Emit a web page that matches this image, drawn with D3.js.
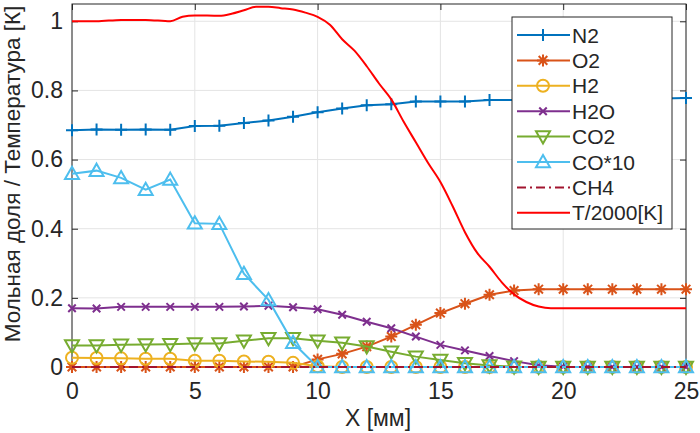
<!DOCTYPE html>
<html>
<head>
<meta charset="utf-8">
<script src="https://cdn.jsdelivr.net/npm/d3@7"></script>
<style>
  body { margin: 0; background: #fff; }
  text { font-family: "Liberation Sans", Arial, sans-serif; fill: #262626; }
</style>
</head>
<body>
<div class="chart"></div>
<script>
// species sampled at every mm
const xs = d3.range(0, 26);
const n2  = [0.685,0.687,0.686,0.687,0.686,0.697,0.698,0.706,0.713,0.724,0.737,0.748,0.757,0.760,0.768,0.768,0.768,0.772,0.772,0.772,0.773,0.774,0.775,0.776,0.777,0.778];
const o2  = [0,0,0,0,0,0,0,0,0,0,0.022,0.038,0.059,0.088,0.122,0.156,0.183,0.209,0.221,0.225,0.225,0.225,0.225,0.225,0.225,0.225];
const h2  = [0.027,0.026,0.025,0.024,0.024,0.018,0.018,0.016,0.015,0.012,0.002,0,0,0,0,0,0,0,0,0,0,0,0,0,0,0];
const h2o = [0.170,0.169,0.174,0.174,0.174,0.174,0.174,0.175,0.177,0.173,0.167,0.151,0.131,0.112,0.088,0.064,0.048,0.032,0.017,0.005,0.001,0,0,0,0,0];
const co2 = [0.062,0.062,0.064,0.065,0.066,0.068,0.068,0.076,0.083,0.083,0.076,0.070,0.059,0.044,0.030,0.020,0.011,0.004,0.001,0,0,0,0,0,0,0];
const co10 = [0.559,0.568,0.547,0.513,0.542,0.416,0.414,0.270,0.194,0.070,0,0,0,0,0,0,0,0,0,0,0,0,0,0,0,0];
const ch4 = xs.map(() => 0);

// temperature / 2000, finer sampling
const tx = [0,1,2,3,4,4.5,5,6,6.5,7,7.5,8,8.5,9,9.5,10,10.5,11,11.5,12,12.5,13,13.5,14,14.5,15,15.5,16,16.5,17,17.5,18,18.5,19,19.5,20,25];
const ty = [1.0,1.0,1.004,1.004,1.0,1.013,1.017,1.016,1.022,1.032,1.042,1.042,1.038,1.034,1.025,1.013,0.99,0.948,0.915,0.87,0.82,0.774,0.71,0.65,0.59,0.535,0.465,0.39,0.33,0.29,0.245,0.21,0.188,0.175,0.17,0.17,0.17];

const xTicks = [0, 5, 10, 15, 20, 25];
const yTicks = [0, 0.2, 0.4, 0.6, 0.8, 1];

const series = [
  { name: 'N2',     y: n2,   color: '#0072BD', marker: 'plus' },
  { name: 'O2',     y: o2,   color: '#D95319', marker: 'star' },
  { name: 'H2',     y: h2,   color: '#EDB120', marker: 'circle' },
  { name: 'H2O',    y: h2o,  color: '#7E2F8E', marker: 'cross' },
  { name: 'CO2',    y: co2,  color: '#77AC30', marker: 'down' },
  { name: 'CO*10',  y: co10, color: '#4DBEEE', marker: 'up' },
  { name: 'CH4',    y: ch4,  color: '#A2142F', marker: null, dash: '9,4,2,4' },
];

const width = 700, height = 433;
const margin = { top: 4, right: 14, bottom: 66, left: 72 };

const x = d3.scaleLinear().domain([0, 25]).range([margin.left, width - margin.right]);
const y = d3.scaleLinear().domain([0, 1.05]).range([height - margin.bottom, margin.top]);

const svg = d3.select('.chart').append('svg')
  .attr('width', width)
  .attr('height', height);

// grid
svg.append('g').selectAll('line').data(xTicks).enter().append('line')
  .attr('x1', d => x(d)).attr('x2', d => x(d))
  .attr('y1', y(0)).attr('y2', y(1.05))
  .style('stroke', '#e4e4e4').style('stroke-width', 1);
svg.append('g').selectAll('line').data(yTicks).enter().append('line')
  .attr('x1', x(0)).attr('x2', x(25))
  .attr('y1', d => y(d)).attr('y2', d => y(d))
  .style('stroke', '#e4e4e4').style('stroke-width', 1);

// axes (ticks inward, box on)
const axisColor = '#262626';
function styleAxis(g) {
  g.select('.domain').remove();
  g.selectAll('line').style('stroke', axisColor);
  g.selectAll('text').style('font-size', '23px').style('fill', axisColor)
    .style('font-family', '"Liberation Sans", Arial, sans-serif');
}
svg.append('g')
  .attr('transform', `translate(0,${y(0)})`)
  .call(d3.axisBottom(x).tickValues(xTicks).tickSize(-6).tickPadding(16).tickFormat(d3.format('d')))
  .call(styleAxis);
svg.append('g')
  .attr('transform', `translate(0,${y(1.05)})`)
  .call(d3.axisTop(x).tickValues(xTicks).tickSize(-6).tickFormat(''))
  .call(styleAxis);
svg.append('g')
  .attr('transform', `translate(${x(0)},0)`)
  .call(d3.axisLeft(y).tickValues(yTicks).tickSize(-6).tickPadding(9).tickFormat(d => d3.format('')(+d.toFixed(1))))
  .call(styleAxis);
svg.append('g')
  .attr('transform', `translate(${x(25)},0)`)
  .call(d3.axisRight(y).tickValues(yTicks).tickSize(-6).tickFormat(''))
  .call(styleAxis);

svg.append('rect')
  .attr('x', x(0)).attr('y', y(1.05))
  .attr('width', x(25) - x(0)).attr('height', y(0) - y(1.05))
  .style('fill', 'none').style('stroke', axisColor).style('stroke-width', 1);

// markers
function markerPath(type, s) {
  const h = s / 2;
  switch (type) {
    case 'plus': return `M${-h},0H${h}M0,${-h}V${h}`;
    case 'cross': { const a = h * 0.75; return `M${-a},${-a}L${a},${a}M${-a},${a}L${a},${-a}`; }
    case 'star': { const a = h * 0.72; return `M${-h},0H${h}M0,${-h}V${h}M${-a},${-a}L${a},${a}M${-a},${a}L${a},${-a}`; }
    case 'circle': return d3.arc()({ innerRadius: 0, outerRadius: h, startAngle: 0, endAngle: 2 * Math.PI });
    case 'up': return `M0,${-h}L${h},${h * 0.75}L${-h},${h * 0.75}Z`;
    case 'down': return `M0,${h}L${h},${-h * 0.75}L${-h},${-h * 0.75}Z`;
  }
  return '';
}
const markerSize = { plus: 12, cross: 10, star: 12, circle: 12, up: 14, down: 14 };

const line = d3.line().x(d => x(d[0])).y(d => y(d[1]));

series.forEach(s => {
  const pts = xs.map((xv, i) => [xv, s.y[i]]);
  svg.append('path')
    .attr('d', line(pts))
    .style('fill', 'none')
    .style('stroke', s.color)
    .style('stroke-width', 2)
    .style('stroke-dasharray', s.dash || null);
  if (s.marker) {
    svg.append('g').selectAll('path').data(pts).enter().append('path')
      .attr('transform', d => `translate(${x(d[0])},${y(d[1])})`)
      .attr('d', markerPath(s.marker, markerSize[s.marker]))
      .style('fill', 'none')
      .style('stroke', s.color)
      .style('stroke-width', 2);
  }
});

// temperature
svg.append('path')
  .attr('d', d3.line().x(d => x(d[0])).y(d => y(d[1])).curve(d3.curveMonotoneX)(tx.map((v, i) => [v, ty[i]])))
  .style('fill', 'none')
  .style('stroke', '#FF0000')
  .style('stroke-width', 2);

// axis labels
svg.append('text')
  .attr('x', 378).attr('y', 426)
  .attr('text-anchor', 'middle')
  .style('font-size', '23px')
  .text('X [мм]');
svg.append('text')
  .attr('transform', 'translate(20,174) rotate(-90)')
  .attr('text-anchor', 'middle')
  .style('font-size', '22.5px')
  .text('Мольная доля / Температура [К]');

// legend
const legendItems = series.concat([{ name: 'T/2000[K]', color: '#FF0000', marker: null }]);
const lg = svg.append('g').attr('transform', 'translate(512,17)');
lg.append('rect')
  .attr('width', 160).attr('height', 212)
  .style('fill', '#fff').style('stroke', axisColor).style('stroke-width', 1);
const item = lg.selectAll('g.item').data(legendItems).enter().append('g')
  .attr('class', 'item')
  .attr('transform', (d, i) => `translate(0,${18 + i * 25.4})`);
item.append('line')
  .attr('x1', 5).attr('x2', 58).attr('y1', 0).attr('y2', 0)
  .style('stroke', d => d.color).style('stroke-width', 2)
  .style('stroke-dasharray', d => d.dash || null);
item.filter(d => d.marker).append('path')
  .attr('transform', 'translate(31,0)')
  .attr('d', d => markerPath(d.marker, markerSize[d.marker]))
  .style('fill', 'none').style('stroke', d => d.color).style('stroke-width', 2);
item.append('text')
  .attr('x', 60).attr('y', 7.5)
  .style('font-size', '21px')
  .text(d => d.name);
</script>
</body>
</html>
